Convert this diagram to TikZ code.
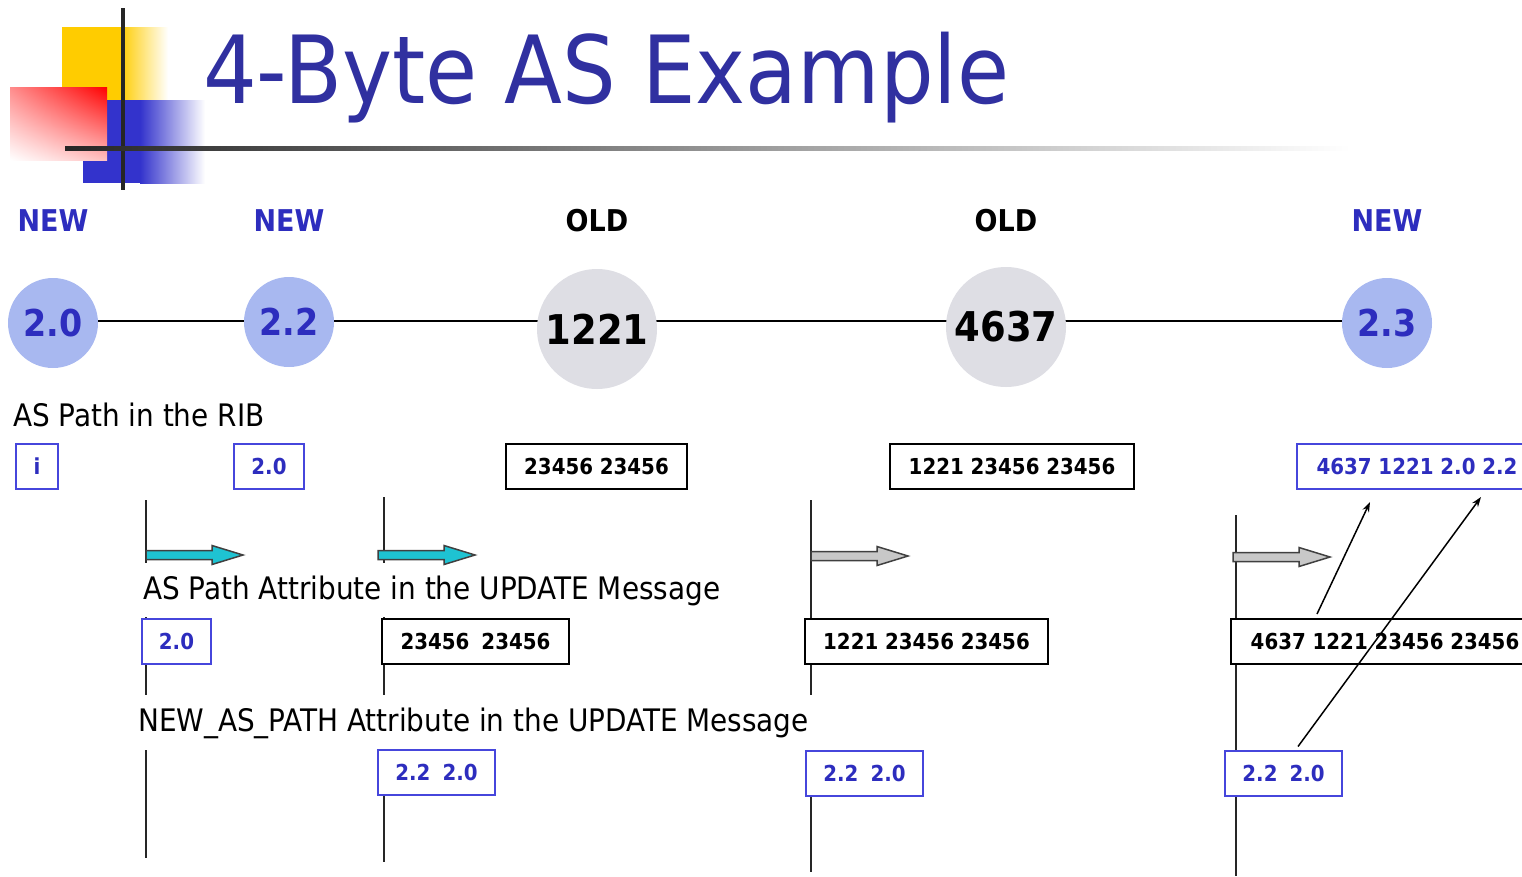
\documentclass[tikz,border=0pt]{standalone}
\usepackage{fontspec}
\setmainfont{DejaVu Sans Condensed}
\usetikzlibrary{calc,positioning,arrows.meta,shadings,backgrounds}
\definecolor{titleblue}{RGB}{48,48,160}
\definecolor{newblue}{RGB}{45,45,190}
\definecolor{boxblue}{RGB}{70,70,220}
\definecolor{ballblue}{RGB}{168,184,240}
\definecolor{ballgray}{RGB}{222,222,228}
\definecolor{arrcyan}{RGB}{30,195,210}
\definecolor{arrgray}{RGB}{200,200,200}
\definecolor{logoyellow}{RGB}{255,204,0}
\definecolor{logoblue}{RGB}{51,51,204}
\tikzset{
  ball/.style={circle,inner sep=0pt,font=\bfseries\fontsize{37}{37}\selectfont},
  newball/.style={ball,fill=ballblue,text=newblue,minimum size=90pt},
  oldball/.style={ball,fill=ballgray,minimum size=120pt,font=\bfseries\fontsize{41}{41}\selectfont},
  newlbl/.style={text=newblue,font=\bfseries\fontsize{30}{30}\selectfont},
  oldlbl/.style={newlbl,text=black},
  caption/.style={anchor=west,inner sep=0pt,font=\fontsize{31}{31}\selectfont},
  ribbox/.style={draw,line width=2pt,fill=white,minimum height=45pt,inner sep=0pt,font=\bfseries\fontsize{22}{22}\selectfont},
  bluebox/.style={ribbox,draw=boxblue,text=newblue},
  vline/.style={line width=2pt,black!85},
  pathlink/.style={line width=1.5pt,-{Stealth[length=10pt,width=7pt]}},
  cyanarrow/.style={fill=arrcyan,draw=black!75,line width=1.5pt},
  grayarrow/.style={fill=arrgray,draw=black!75,line width=1.5pt},
  pics/blockarrow/.style={code={\filldraw[#1] (0,-4.5)--(66,-4.5)--(66,-9.5)--(97,0)--(66,9.5)--(66,4.5)--(0,4.5)--cycle;}}
}
\begin{document}
\begin{tikzpicture}[x=1pt,y=-1pt]
\useasboundingbox (0,0) rectangle (1522,876);
% logo and title
\fill[logoyellow] (62,27) rectangle (120,100);
\shade[left color=logoyellow,right color=white] (120,27) rectangle (168,100);
\fill[logoblue] (83,100) rectangle (140,183);
\shade[left color=logoblue,right color=white] (140,100) rectangle (205,183);
\shade[upper left=red!45,upper right=red,lower left=white,lower right=red!25] (10,87) rectangle (107,160);
\draw[line width=4pt,black!85] (123,8) -- (123,190);
\shade[left color=black!85,middle color=black!30,right color=white] (65,146) rectangle (1350,150);
\node[anchor=base west,inner sep=0pt,text=titleblue,font=\fontsize{94}{94}\selectfont] (title) at (203,103) {4-Byte AS Example};
% routers
\node[newball] (as20) at (53,323) {2.0};
\node[newball] (as22) at (289,322) {2.2};
\node[oldball] (as1221) at (597,329) {1221};
\node[oldball] (as4637) at (1006,327) {4637};
\node[newball] (as23) at (1387,323) {2.3};
\begin{pgfonlayer}{background}
\draw[line width=2pt] (as20.center |- 0,321) -- (as23.center |- 0,321);
\end{pgfonlayer}
\node[newlbl] (l1) at (as20 |- 0,221) {NEW};
\node[newlbl] (l2) at (as22 |- 0,221) {NEW};
\node[oldlbl] (l3) at (as1221 |- 0,221) {OLD};
\node[oldlbl] (l4) at (as4637 |- 0,221) {OLD};
\node[newlbl] (l5) at (as23 |- 0,221) {NEW};
% time lines
\draw[vline] (146,500) -- (146,563) (146,617) -- (146,695) (146,750) -- (146,858);
\draw[vline] (384,497) -- (384,563) (384,617) -- (384,695) (384,750) -- (384,862);
\draw[vline] (811,500) -- (811,695) (811,750) -- (811,872);
\draw[vline] (1236,515) -- (1236,876);
\pic at (146,555) {blockarrow=cyanarrow};
\pic at (378,555) {blockarrow=cyanarrow};
\pic at (811,556) {blockarrow=grayarrow};
\pic at (1233,557) {blockarrow=grayarrow};
% texts
\node[caption] (ribtxt) at (13,415) {AS Path in the RIB};
\node[caption] (updtxt) at (143,591) {AS Path Attribute in the UPDATE Message};
\node[caption] (newtxt) at (138,723) {NEW\_AS\_PATH Attribute in the UPDATE Message};
% RIB
\node[bluebox,minimum width=42pt] (rib1) at (37,466.5) {i};
\node[bluebox,minimum width=70pt] (rib2) at (269,466.5) {2.0};
\node[ribbox,minimum width=181pt] (rib3) at (596.5,466.5) {23456 23456};
\node[ribbox,minimum width=244pt] (rib4) at (1012,466.5) {1221 23456 23456};
\node[bluebox,minimum width=240pt] (rib5) at (1417,466.5) {4637 1221 2.0 2.2};
% AS_PATH
\node[bluebox,minimum width=69pt] (upd1) at (176.5,641.5) {2.0};
\node[ribbox,minimum width=187pt] (upd2) at (475.5,641.5) {23456\hspace{12pt}23456};
\node[ribbox,minimum width=243pt] (upd3) at (926.5,641.5) {1221 23456 23456};
\node[ribbox,minimum width=308pt] (upd4) at (1385,641.5) {4637 1221 23456 23456};
% NEW_AS_PATH
\node[bluebox,minimum width=117pt] (new1) at (436.5,772.5) {2.2\hspace{12pt}2.0};
\node[bluebox,minimum width=117pt] (new2) at (864.5,773.5) {2.2\hspace{12pt}2.0};
\node[bluebox,minimum width=117pt] (new3) at (1283.5,773) {2.2\hspace{12pt}2.0};
\coordinate (tip1) at (1370,502);
\coordinate (tip2) at (1481,497);
\draw[pathlink] ([xshift=87pt,yshift=4pt]upd4.north west) -- (tip1);
\draw[pathlink] ([xshift=74pt,yshift=3pt]new3.north west) -- (tip2);
\end{tikzpicture}
\end{document}
